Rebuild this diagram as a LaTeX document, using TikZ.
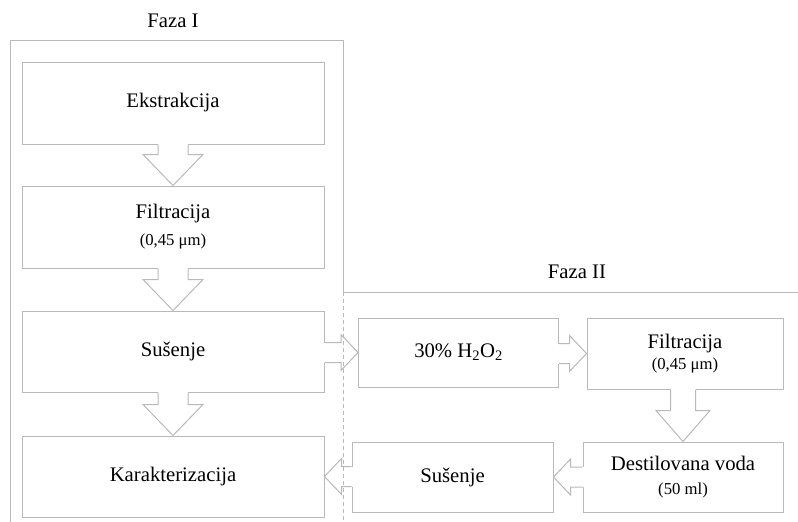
\documentclass[tikz,border=0pt]{standalone}
\usepackage{fontspec}
\setmainfont{Liberation Serif}
\usepackage{tikz}
\usetikzlibrary{calc}
\definecolor{framegray}{RGB}{185,185,185}
\newcommand{\bigtext}{\fontsize{20.7}{24}\selectfont}
\newcommand{\smalltext}{\fontsize{16.7}{18}\selectfont}
\tikzset{every picture/.append style={x=1pt, y=-1pt}}
\tikzset{
    stepbox/.style={rectangle, draw=framegray, line width=1pt, align=center,
    	inner sep=0pt, font=\bigtext},
    blockarrow/.style={draw=framegray, line width=1pt},
    frameline/.style={draw=framegray, line width=1pt}
}
% hollow block arrows: #1 source node, #2 target node
\newcommand{\arrowdown}[4]{%
	\fill[white] ($(#1.south -| #2.north)+(-#3,-1)$) rectangle ($(#1.south -| #2.north)+(#3,1)$);
	\draw[blockarrow] ($(#1.south -| #2.north)+(-#3,0)$) -- ($(#2.north)+(-#3,-31)$)
		-- ($(#2.north)+(-#4,-31)$) -- (#2.north) -- ($(#2.north)+(#4,-31)$)
		-- ($(#2.north)+(#3,-31)$) -- ($(#1.south -| #2.north)+(#3,0)$);
}
\newcommand{\arrowright}[2]{%
	\fill[white] ($(#1.east |- #2.west)+(-1,-10)$) rectangle ($(#1.east |- #2.west)+(1,10)$);
	\draw[blockarrow] ($(#1.east |- #2.west)+(0,-10)$) -- ($(#2.west)+(-17,-10)$)
		-- ($(#2.west)+(-17,-18)$) -- (#2.west) -- ($(#2.west)+(-17,18)$)
		-- ($(#2.west)+(-17,10)$) -- ($(#1.east |- #2.west)+(0,10)$);
}
\newcommand{\arrowleft}[2]{%
	\fill[white] ($(#1.west |- #2.east)+(-1,-10)$) rectangle ($(#1.west |- #2.east)+(1,10)$);
	\draw[blockarrow] ($(#1.west |- #2.east)+(0,-10)$) -- ($(#2.east)+(17,-10)$)
		-- ($(#2.east)+(17,-18)$) -- (#2.east) -- ($(#2.east)+(17,18)$)
		-- ($(#2.east)+(17,10)$) -- ($(#1.west |- #2.east)+(0,10)$);
}

\begin{document}
\begin{tikzpicture}
	\useasboundingbox (0,0) rectangle (798,522);
	% frames of the two phases
	\draw[frameline] (343,292) -- (343,40) -- (10,40) -- (10,522);
	\draw[frameline] (343,292) -- (798,292);
	\draw[frameline, dash pattern=on 4pt off 3pt] (343,292) -- (343,522);
	\node[font=\bigtext] (faza1) at (173,21) {Faza I};
	\node[font=\bigtext] (faza2) at (577,272) {Faza II};
	% faza I
	\node[stepbox, minimum width=302pt, minimum height=82pt] (ekst) at (173,103) {Ekstrakcija};
	\node[stepbox, minimum width=302pt, minimum height=82pt] (filt1) at (173,227)
		{Filtracija\\[3pt]{\smalltext (0,45 μm)}};
	\node[stepbox, minimum width=302pt, minimum height=81pt] (sus1) at (173,351.5) {Sušenje};
	\node[stepbox, minimum width=302pt, minimum height=81pt] (kar) at (173,476.5) {Karakterizacija};
	% faza II
	\node[stepbox, minimum width=200pt, minimum height=69pt] (hoo) at (458.5,352.5)
		{30\% H\textsubscript{2}O\textsubscript{2}};
	\node[stepbox, minimum width=196pt, minimum height=71pt] (filt2) at (685,353.5)
		{Filtracija\\[-3pt]{\smalltext (0,45 μm)}};
	\node[stepbox, minimum width=200pt, minimum height=70pt] (dest) at (683,477)
		{Destilovana voda\\{\smalltext (50 ml)}};
	\node[stepbox, minimum width=201pt, minimum height=70pt] (sus2) at (452.5,477) {Sušenje};
	\arrowdown{ekst}{filt1}{15}{30}
	\arrowdown{filt1}{sus1}{15}{30}
	\arrowdown{sus1}{kar}{15}{30}
	\arrowright{sus1}{hoo}
	\arrowright{hoo}{filt2}
	\arrowdown{filt2}{dest}{12.5}{27}
	\arrowleft{dest}{sus2}
	\arrowleft{sus2}{kar}
\end{tikzpicture}
\end{document}
